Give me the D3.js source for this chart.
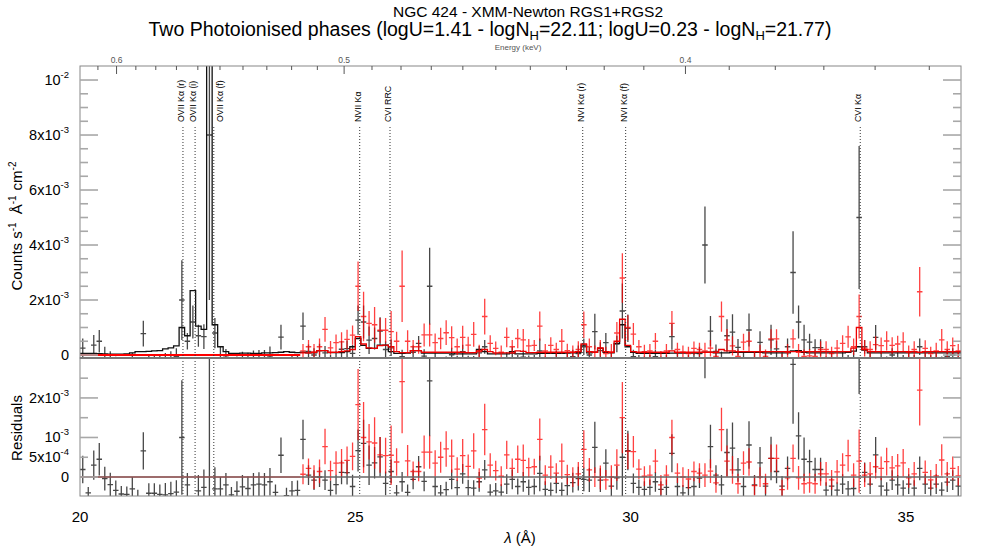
<!DOCTYPE html>
<html>
<head>
<meta charset="utf-8">
<script src="https://cdn.jsdelivr.net/npm/d3@7"></script>
<style>
  body { margin: 0; background: #fff; }
  svg { font-family: "Liberation Sans", Arial, Helvetica, sans-serif; }
</style>
</head>
<body>
<div id="chart"></div>
<script>
// all rates in units of 1e-4 counts s^-1 A^-1 cm^-2

var blackWave = [
  20.05,20.15,20.25,20.35,20.45,20.55,20.65,20.75,20.85,20.95,
  21.05,21.15,21.25,21.35,21.45,21.55,21.65,21.75,21.85,21.95,
  22.05,22.15,22.25,22.35,22.45,22.55,22.65,22.75,22.85,22.95,
  23.05,23.15,23.25,23.35,23.45,23.55,23.65,23.75,23.85,23.95,
  24.05,24.15,24.25,24.35,24.45,24.55,24.65,24.75,24.85,24.95,
  25.05,25.15,25.25,25.35,25.45,25.55,25.65,25.75,25.85,25.95,
  26.05,26.15,26.25,26.35,26.45,26.55,26.65,26.75,26.85,26.95,
  27.05,27.15,27.25,27.35,27.45,27.55,27.65,27.75,27.85,27.95,
  28.05,28.15,28.25,28.35,28.45,28.55,28.65,28.75,28.85,28.95,
  29.05,29.15,29.25,29.35,29.45,29.55,29.65,29.75,29.85,29.95,
  30.05,30.15,30.25,30.35,30.45,30.55,30.65,30.75,30.85,30.95,
  31.05,31.15,31.25,31.35,31.45,31.55,31.65,31.75,31.85,31.95,
  32.05,32.15,32.25,32.35,32.45,32.55,32.65,32.75,32.85,32.95,
  33.05,33.15,33.25,33.35,33.45,33.55,33.65,33.75,33.85,33.95,
  34.05,34.15,34.25,34.35,34.45,34.55,34.65,34.75,34.85,34.95,
  35.05,35.15,35.25,35.35,35.45,35.55,35.65,35.75,35.85,35.95
];
var blackRate = [
  2.5,-3.4,3.6,5.0,0.0,-1.6,-3.1,-4.0,-4.0,-2.2,
  -4.0,7.8,-2.8,-2.6,-2.8,-2.3,-1.6,-0.5,20.0,5.0,
  12.0,7.0,6.7,80.0,8.0,0.0,-0.8,-3.9,-3.0,-1.8,
  -2.2,-1.4,-1.2,-1.2,-0.4,-3.0,6.5,-3.5,-2.5,-2.5,
  10.5,1.3,0.0,1.6,0.8,-2.5,-1.0,2.1,2.3,0.6,
  12.7,12.0,5.4,6.0,8.7,2.0,2.6,-3.4,-0.6,-3.2,
  1.0,4.2,-0.4,25.0,-1.7,-3.3,-2.5,0.1,-2.3,1.2,
  -2.3,-2.4,0.8,3.0,-3.4,-3.1,-3.4,-1.4,0.6,-2.0,
  -0.8,-2.2,-2.0,1.5,-2.5,-2.8,-1.0,-2.8,-1.5,-0.6,
  0.5,3.0,0.0,8.5,1.6,4.5,-1.5,4.0,16.0,9.7,
  -0.6,-2.0,-2.5,-2.0,-0.6,-2.5,-2.0,6.7,-1.7,-3.3,
  -2.0,-1.7,0.5,40.0,8.7,1.3,-1.2,7.0,8.3,2.8,
  -1.4,9.1,-1.0,4.6,-1.5,5.5,2.2,-1.5,3.0,30.0,
  12.0,5.5,4.7,2.7,2.7,-2.5,-1.5,-2.5,-1.0,-2.0,
  -1.5,50.0,3.0,-1.0,6.4,-1.5,-2.5,0.0,-1.2,-2.0,
  -1.0,-2.0,3.0,-1.0,-2.0,-1.0,-2.5,-0.5,0.0,-1.5
];
var blackErr = [
  3.5,1.5,3.7,4.1,3.0,3.0,2.5,2.0,2.0,3.0,
  2.0,4.7,2.5,2.5,2.5,3.0,3.0,3.0,14.5,3.0,
  6.0,4.0,4.5,60.0,5.5,3.0,3.0,2.0,2.5,3.0,
  3.0,3.0,3.0,3.0,3.5,2.0,4.5,2.0,2.5,2.5,
  5.0,2.5,2.5,2.5,2.5,2.5,2.5,3.0,3.0,3.0,
  5.3,6.0,5.0,4.0,5.0,3.0,3.0,2.0,2.5,2.0,
  2.5,2.7,2.5,14.0,2.5,2.0,2.0,2.5,2.0,2.5,
  2.0,2.0,2.5,2.5,2.0,2.0,2.0,2.5,2.5,2.0,
  2.5,2.0,2.0,4.5,2.0,2.0,2.5,2.0,2.5,2.5,
  3.0,3.0,3.0,6.5,3.0,3.5,2.5,3.0,10.0,5.0,
  2.5,2.0,2.0,2.0,2.5,2.0,2.0,4.8,2.5,2.0,
  2.0,2.5,2.5,14.0,5.5,2.5,2.5,6.0,6.5,3.0,
  2.5,6.0,2.5,4.0,2.5,5.5,3.0,2.5,3.0,15.0,
  6.0,5.5,3.0,3.0,3.0,2.0,2.5,2.0,2.5,2.0,
  2.5,26.0,2.5,2.5,4.5,2.5,2.0,2.5,2.5,2.0,
  2.5,2.0,3.0,2.5,2.0,2.5,2.0,2.5,2.5,2.5
];
var blackModel = [
  0.6,0.6,0.6,0.5,0.4,0.3,0.3,0.3,0.4,0.8,
  1.2,1.2,1.3,1.5,1.6,2.2,2.6,3.3,10.0,7.0,
  23.4,10.5,9.3,110.0,11.0,3.0,1.2,0.6,0.6,0.7,
  0.7,0.6,0.6,0.8,0.8,0.9,1.0,1.2,1.0,0.9,
  1.0,0.8,0.8,1.6,1.6,0.9,0.9,0.9,1.2,3.0,
  6.0,3.5,2.4,2.4,3.6,3.6,1.2,0.6,0.6,0.7,
  1.6,1.6,0.7,0.7,0.7,0.7,0.7,0.7,0.4,0.4,
  0.4,0.4,2.0,1.2,0.4,0.4,0.4,0.4,1.2,0.4,
  0.4,0.4,0.4,0.6,0.6,0.6,0.6,0.6,0.7,0.8,
  0.9,3.6,0.8,1.0,2.4,1.0,0.8,4.2,11.0,3.0,
  1.0,0.6,0.6,0.6,0.6,0.6,0.6,0.7,0.7,0.7,
  0.7,0.7,0.8,1.0,1.0,0.8,0.8,0.8,1.0,1.0,
  1.0,1.0,1.0,1.0,0.8,0.8,0.8,0.8,0.8,1.5,
  1.6,1.0,0.8,0.8,0.8,0.8,0.8,0.8,0.8,1.0,
  1.4,3.0,1.8,0.8,0.8,0.8,0.8,0.8,0.8,0.8,
  0.8,0.8,0.8,0.8,0.8,0.8,0.8,0.8,0.8,0.8
];

var redWave = [
  24.05,24.15,24.25,24.35,24.45,24.55,24.65,24.75,24.85,24.95,
  25.05,25.15,25.25,25.35,25.45,25.55,25.65,25.75,25.85,25.95,
  26.05,26.15,26.25,26.35,26.45,26.55,26.65,26.75,26.85,26.95,
  27.05,27.15,27.25,27.35,27.45,27.55,27.65,27.75,27.85,27.95,
  28.05,28.15,28.25,28.35,28.45,28.55,28.65,28.75,28.85,28.95,
  29.05,29.15,29.25,29.35,29.45,29.55,29.65,29.75,29.85,29.95,
  30.05,30.15,30.25,30.35,30.45,30.55,30.65,30.75,30.85,30.95,
  31.05,31.15,31.25,31.35,31.45,31.55,31.65,31.75,31.85,31.95,
  32.05,32.15,32.25,32.35,32.45,32.55,32.65,32.75,32.85,32.95,
  33.05,33.15,33.25,33.35,33.45,33.55,33.65,33.75,33.85,33.95,
  34.05,34.15,34.25,34.35,34.45,34.55,34.65,34.75,34.85,34.95,
  35.05,35.15,35.25,35.35,35.45,35.55,35.65,35.75,35.85,35.95
];
var redRate = [
  1.5,3.0,1.0,3.0,9.3,2.6,4.5,4.8,5.7,7.2,
  25.0,14.0,11.5,11.0,9.0,9.0,8.5,5.0,25.0,5.0,
  3.0,3.0,7.3,7.3,4.5,6.0,8.1,6.3,3.0,6.4,
  3.6,7.5,1.2,14.0,4.2,2.4,1.0,6.4,3.0,6.0,
  5.5,3.3,3.5,10.5,1.5,3.5,2.0,5.0,1.6,1.0,
  2.0,11.0,3.0,1.0,2.5,0.5,1.0,8.0,28.0,10.0,
  7.6,3.0,1.2,1.5,5.0,-1.0,1.5,11.5,2.0,1.0,
  0.5,2.4,2.0,1.5,2.5,-0.5,14.0,5.5,3.3,-0.5,
  4.7,5.0,-1.0,1.2,-0.5,5.9,5.9,-2.0,1.0,5.9,
  1.0,-0.5,-0.3,-0.5,2.0,2.0,0.5,2.5,4.2,6.6,
  3.0,14.0,2.5,2.0,3.8,3.4,5.1,3.5,4.0,4.8,
  1.0,2.0,23.0,2.4,0.5,1.5,5.5,2.0,3.4,1.5
];
var redErr = [
  2.5,2.5,3.0,3.0,4.5,2.5,3.0,3.5,3.5,3.5,
  9.0,9.0,4.5,6.5,4.5,4.5,7.5,3.5,13.0,4.0,
  2.5,2.5,4.2,4.2,3.3,3.9,4.5,4.2,3.0,4.2,
  3.0,4.5,2.5,6.5,3.0,2.5,2.5,3.6,2.5,3.5,
  4.0,2.5,2.0,5.3,2.5,3.0,2.5,4.5,2.5,2.5,
  3.0,4.8,3.0,2.5,3.0,2.5,3.0,4.0,9.0,4.5,
  4.0,2.5,2.5,2.5,3.0,2.5,2.5,4.5,2.5,2.5,
  2.5,2.5,2.5,3.0,3.0,2.5,5.5,4.0,3.5,2.5,
  3.0,3.5,2.5,2.5,2.5,3.5,3.5,2.5,3.0,3.5,
  3.0,2.5,2.5,2.5,3.0,3.0,2.5,3.0,3.0,4.0,
  3.0,8.0,3.0,3.0,3.0,3.0,3.5,3.0,3.0,3.5,
  2.5,3.0,9.0,3.0,2.5,3.0,4.0,3.0,3.0,2.5
];
var redModel = [
  0.8,0.8,1.0,1.6,1.6,1.0,1.0,1.2,1.5,2.0,
  6.7,4.0,2.6,2.4,3.4,3.6,3.0,1.2,0.9,0.9,
  1.6,1.6,1.0,1.0,1.0,1.0,1.0,1.0,1.0,1.0,
  0.9,0.9,1.5,2.0,1.2,0.8,0.8,0.8,0.8,1.5,
  1.3,0.9,0.9,1.0,1.0,1.0,1.0,1.0,1.0,1.0,
  1.2,4.0,1.2,1.0,2.6,1.2,1.0,5.0,13.0,3.5,
  1.2,1.0,1.0,1.0,1.0,1.0,1.0,1.5,1.0,1.0,
  1.0,1.0,1.0,1.0,1.0,1.0,2.0,1.5,1.5,1.2,
  1.2,1.2,1.2,1.2,1.2,1.2,1.2,1.2,1.2,1.2,
  1.2,1.2,1.2,1.2,1.2,1.2,1.2,1.2,1.2,1.2,
  2.5,10.0,2.0,1.2,1.2,1.2,1.2,1.2,1.2,1.2,
  1.2,1.2,1.0,1.2,1.2,1.2,1.2,1.2,1.2,1.2
];
// RGS2 has no coverage here, its model sits at zero
var redGap = [20.0, 24.0];

var lineNames = ["OVII K\u03b1 (r)", "OVII K\u03b1 (i)", "OVII K\u03b1 (f)", "NVII K\u03b1",
                 "CVI RRC", "NVI K\u03b1 (r)", "NVI K\u03b1 (f)", "CVI K\u03b1"];
var lineWaves = [21.87, 22.09, 22.43, 25.08, 25.63, 29.13, 29.91, 34.17];
var lineShift = [0, 0, 8, 0, 0, 0, 0, 0];

var waveTicks = [20, 25, 30, 35];
var energyTicks = [0.6, 0.5, 0.4];
var countTicks = [0, 20, 40, 60, 80, 100];
var countTickLabels = [["0"], ["2x10", "-3"], ["4x10", "-3"], ["6x10", "-3"], ["8x10", "-3"], ["10", "-2"]];
var residTicks = [0, 5, 10, 20];
var residTickLabels = [["0"], ["5x10", "-4"], ["10", "-3"], ["2x10", "-3"]];

var HC = 12.3984;
var BIN_HALF = 0.05;

var width = 981, height = 552;
var plotL = 80, plotR = 961, plotT = 66, plotM = 358, plotB = 496;

var x = d3.scaleLinear().domain([20, 36]).range([plotL, plotR]);
var yTop = d3.scaleLinear().domain([-1.09, 105.1]).range([plotM, plotT]);
var yRes = d3.scaleLinear().domain([-4.8, 30.1]).range([plotB, plotM]);

var blackResid = blackRate.map(function(v, i) { return v - blackModel[i]; });
var redResid = redRate.map(function(v, i) { return v - redModel[i]; });

var svg = d3.select("#chart").append("svg")
  .attr("width", width)
  .attr("height", height);

var defs = svg.append("defs");
defs.append("clipPath").attr("id", "clipTop").append("rect")
  .attr("x", plotL).attr("y", plotT).attr("width", plotR - plotL).attr("height", plotM - plotT);
defs.append("clipPath").attr("id", "clipRes").append("rect")
  .attr("x", plotL).attr("y", plotM).attr("width", plotR - plotL).attr("height", plotB - plotM);

// titles
svg.append("text")
  .attr("x", 528).attr("y", 17)
  .attr("text-anchor", "middle")
  .style("font-size", "15.5px")
  .text("NGC 424 - XMM-Newton RGS1+RGS2");

var t2 = svg.append("text")
  .attr("x", 490).attr("y", 36)
  .attr("text-anchor", "middle")
  .style("font-size", "19.5px");
t2.append("tspan").text("Two Photoionised phases (logU=1.41 - logN");
t2.append("tspan").attr("dy", 4).style("font-size", "13px").text("H");
t2.append("tspan").attr("dy", -4).text("=22.11; logU=0.23 - logN");
t2.append("tspan").attr("dy", 4).style("font-size", "13px").text("H");
t2.append("tspan").attr("dy", -4).text("=21.77)");

svg.append("text")
  .attr("x", 518).attr("y", 50)
  .attr("text-anchor", "middle")
  .style("font-size", "8px")
  .style("fill", "#555")
  .text("Energy (keV)");

// crosses and steps
function crossPath(w, v, e, yScale) {
  return "M" + x(w - BIN_HALF) + "," + yScale(v) + "H" + x(w + BIN_HALF) +
         "M" + x(w) + "," + yScale(v - e) + "V" + yScale(v + e);
}

function stepPath(waves, model, yScale) {
  var pts = waves.map(function(w, i) { return [w - BIN_HALF, model[i]]; });
  pts.push([waves[waves.length - 1] + BIN_HALF, model[model.length - 1]]);
  return d3.line()
    .x(function(d) { return x(d[0]); })
    .y(function(d) { return yScale(d[1]); })
    .curve(d3.curveStepAfter)(pts);
}

function drawPoints(g, waves, vals, errs, yScale, color, opacity) {
  g.append("g")
    .selectAll("path")
    .data(waves)
    .enter()
    .append("path")
    .attr("d", function(w, i) { return crossPath(w, vals[i], errs[i], yScale); })
    .attr("fill", "none")
    .attr("stroke", color)
    .attr("stroke-opacity", opacity)
    .attr("stroke-width", 1.3);
}

// upper panel
var gTop = svg.append("g").attr("clip-path", "url(#clipTop)");
drawPoints(gTop, blackWave, blackRate, blackErr, yTop, "#000", 0.72);
gTop.append("path")
  .attr("d", stepPath(blackWave, blackModel, yTop))
  .attr("fill", "none").attr("stroke", "#111").attr("stroke-width", 1.3);
drawPoints(gTop, redWave, redRate, redErr, yTop, "#ff0000", 0.75);
gTop.append("line")
  .attr("x1", x(redGap[0])).attr("x2", x(redGap[1]))
  .attr("y1", yTop(0)).attr("y2", yTop(0))
  .attr("stroke", "#ff0000").attr("stroke-width", 1.8);
gTop.append("path")
  .attr("d", stepPath(redWave, redModel, yTop))
  .attr("fill", "none").attr("stroke", "#ee0000").attr("stroke-width", 1.3);

// residual panel
var gRes = svg.append("g").attr("clip-path", "url(#clipRes)");
drawPoints(gRes, blackWave, blackResid, blackErr, yRes, "#000", 0.72);
drawPoints(gRes, redWave, redResid, redErr, yRes, "#ff0000", 0.75);
gRes.append("line")
  .attr("x1", plotL).attr("x2", plotR)
  .attr("y1", yRes(0)).attr("y2", yRes(0))
  .attr("stroke", "#666").attr("stroke-width", 1.6);
gRes.append("line")
  .attr("x1", x(redGap[0])).attr("x2", x(redGap[1]))
  .attr("y1", yRes(0)).attr("y2", yRes(0))
  .attr("stroke", "#c03030").attr("stroke-opacity", 0.45).attr("stroke-width", 1.6);

// line identifications
lineWaves.forEach(function(w, i) {
  svg.append("line")
    .attr("x1", x(w)).attr("x2", x(w))
    .attr("y1", 127).attr("y2", plotB)
    .attr("stroke", "#333")
    .attr("stroke-width", 1)
    .attr("stroke-dasharray", "1,2");
  svg.append("text")
    .attr("transform", "translate(" + (x(w) + 1 + lineShift[i]) + ",122)rotate(-90)")
    .style("font-size", "8.8px")
    .text(lineNames[i]);
});

// frames
[[plotT, plotM], [plotM, plotB]].forEach(function(p) {
  svg.append("rect")
    .attr("x", plotL).attr("y", p[0])
    .attr("width", plotR - plotL).attr("height", p[1] - p[0])
    .attr("fill", "none").attr("stroke", "#888").attr("stroke-width", 1);
});
svg.append("line")
  .attr("x1", plotL).attr("x2", plotR).attr("y1", plotM).attr("y2", plotM)
  .attr("stroke", "#777").attr("stroke-width", 2);

// y ticks, both sides
function yTicks(yScale, majors, minors) {
  majors.forEach(function(v) {
    [[plotL, plotL + 18], [plotR, plotR - 18]].forEach(function(s) {
      svg.append("line")
        .attr("x1", s[0]).attr("x2", s[1])
        .attr("y1", yScale(v)).attr("y2", yScale(v))
        .attr("stroke", "#a8a8a8").attr("stroke-width", 1.6);
    });
  });
  minors.forEach(function(v) {
    [[plotL, plotL + 8], [plotR, plotR - 8]].forEach(function(s) {
      svg.append("line")
        .attr("x1", s[0]).attr("x2", s[1])
        .attr("y1", yScale(v)).attr("y2", yScale(v))
        .attr("stroke", "#a8a8a8").attr("stroke-width", 1.6);
    });
  });
}
yTicks(yTop, countTicks, d3.range(5, 105, 10).concat(d3.range(10, 100, 20)));
yTicks(yRes, [0, 10, 20], [5, 15, 25]);

function yLabels(yScale, ticks, labels) {
  ticks.forEach(function(v, i) {
    var t = svg.append("text")
      .attr("x", 69).attr("y", yScale(v) + 5)
      .attr("text-anchor", "end")
      .style("font-size", "14.5px");
    t.append("tspan").text(labels[i][0]);
    if (labels[i][1]) {
      t.append("tspan").attr("dy", -7).style("font-size", "9.5px").text(labels[i][1]);
    }
  });
}
yLabels(yTop, countTicks, countTickLabels);
yLabels(yRes, residTicks, residTickLabels);

// energy axis on top
d3.range(35, 62).forEach(function(k) {
  var e = k / 100;
  var major = energyTicks.indexOf(e) >= 0;
  svg.append("line")
    .attr("x1", x(HC / e)).attr("x2", x(HC / e))
    .attr("y1", plotT).attr("y2", plotT + (major ? 8 : 4))
    .attr("stroke", "#555").attr("stroke-width", 1);
});
energyTicks.forEach(function(e) {
  svg.append("text")
    .attr("x", x(HC / e)).attr("y", 63)
    .attr("text-anchor", "middle")
    .style("font-size", "8.5px")
    .style("fill", "#555")
    .text(e.toFixed(1));
});

// wavelength axis
waveTicks.forEach(function(w) {
  svg.append("text")
    .attr("x", x(w)).attr("y", 522)
    .attr("text-anchor", "middle")
    .style("font-size", "15px")
    .text(w);
});
var xt = svg.append("text")
  .attr("x", 520).attr("y", 543)
  .attr("text-anchor", "middle")
  .style("font-size", "15px");
xt.append("tspan").style("font-style", "italic").text("\u03bb");
xt.append("tspan").text(" (\u00c5)");

// axis titles
var yt = svg.append("text")
  .attr("transform", "translate(22,226)rotate(-90)")
  .attr("text-anchor", "middle")
  .style("font-size", "15px");
yt.append("tspan").text("Counts s");
yt.append("tspan").attr("dy", -6).style("font-size", "10px").text("-1");
yt.append("tspan").attr("dy", 6).attr("dx", 8).text("\u00c5");
yt.append("tspan").attr("dy", -6).style("font-size", "10px").text("-1");
yt.append("tspan").attr("dy", 6).attr("dx", 5).text("cm");
yt.append("tspan").attr("dy", -6).style("font-size", "10px").text("-2");

svg.append("text")
  .attr("transform", "translate(22,428)rotate(-90)")
  .attr("text-anchor", "middle")
  .style("font-size", "15px")
  .text("Residuals");
</script>
</body>
</html>
